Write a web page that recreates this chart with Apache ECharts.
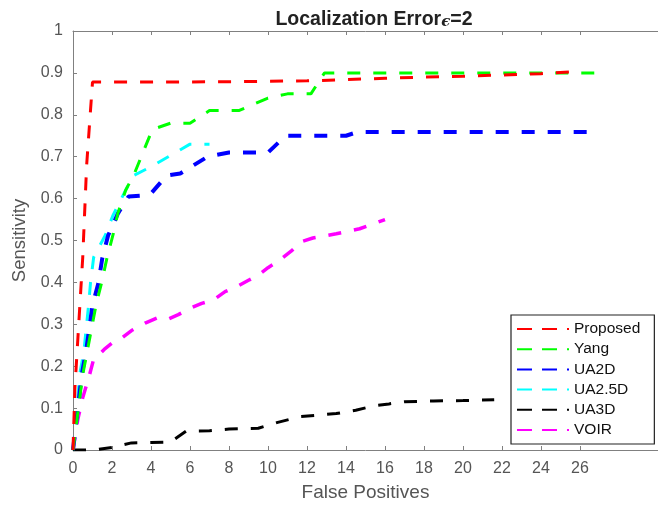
<!DOCTYPE html>
<html>
<head>
<meta charset="utf-8">
<script src="https://cdn.jsdelivr.net/npm/echarts@6/dist/echarts.min.js"></script>
<style>html,body{margin:0;padding:0;background:#fff;}#c{width:658px;height:507px;}</style>
</head>
<body>
<div id="c"></div>
<script>
// Data (x = false positives, y = sensitivity)
const proposed = [[0,0],[0.1,0.15],[0.5,0.46],[0.7,0.68],[1,0.878],[4,0.878],[8,0.879],[12,0.881],[14,0.884],[16,0.887],[18,0.89],[20,0.892],[22,0.895],[24,0.898],[25.7,0.903],[26,0.905]];
const yang = [[0,0],[0.5,0.18],[1.2,0.35],[1.47,0.4],[1.75,0.46],[2.06,0.515],[2.3,0.565],[2.7,0.62],[3.15,0.66],[4.07,0.765],[5,0.78],[6,0.78],[7,0.81],[8.5,0.81],[10,0.84],[11,0.85],[12.2,0.85],[12.9,0.9],[27,0.9]];
const ua2d = [[0,0],[0.45,0.18],[0.67,0.236],[0.85,0.295],[1.0,0.346],[1.3,0.398],[1.5,0.457],[1.8,0.512],[2.3,0.564],[2.85,0.605],[3.5,0.607],[4,0.612],[4.8,0.655],[5.5,0.66],[6.9,0.70],[8,0.71],[10,0.71],[10.9,0.75],[14,0.75],[14.6,0.759],[27,0.759]];
const ua25d = [[0,0],[0.25,0.125],[0.34,0.18],[0.56,0.236],[0.8,0.346],[0.9,0.4],[1.06,0.46],[1.65,0.512],[2.05,0.56],[2.7,0.62],[3.1,0.655],[4,0.676],[5,0.703],[6,0.73],[7,0.73]];
const ua3d = [[0,0],[1,0],[2,0.006],[3,0.017],[4,0.018],[5,0.019],[5.8,0.045],[7,0.046],[8,0.05],[9.5,0.052],[10.5,0.066],[11.7,0.08],[12.5,0.083],[13.5,0.087],[14.5,0.095],[15.5,0.106],[16.2,0.11],[17,0.115],[18.5,0.117],[20,0.118],[21.6,0.12]];
const voir = [[0,0],[0.25,0.074],[0.5,0.125],[0.85,0.18],[1.05,0.215],[1.6,0.24],[2,0.255],[2.5,0.267],[3,0.285],[3.7,0.303],[4.3,0.315],[4.8,0.311],[5.4,0.323],[6,0.338],[6.6,0.35],[7.2,0.358],[7.8,0.378],[8.4,0.39],[9,0.405],[9.5,0.417],[10,0.435],[10.6,0.453],[11.2,0.475],[11.7,0.497],[12.3,0.506],[12.8,0.51],[13.5,0.516],[14.1,0.522],[14.7,0.528],[15.3,0.538],[16,0.55]];

const seriesNames = ['Proposed','Yang','UA2D','UA2.5D','UA3D','VOIR'];
const seriesData = [proposed, yang, ua2d, ua25d, ua3d, voir];
const seriesColors = ['#ff0000','#00ff00','#0000ff','#00ffff','#000000','#ff00ff'];
const seriesWidths = [3,3,4,3,3,3.5];
const xTicks = [0,2,4,6,8,10,12,14,16,18,20,22,24,26];

const chart = echarts.init(document.getElementById('c'), null, {renderer:'canvas'});
const axisColor = '#808080';
const labelColor = '#555555';
const fontFam = 'Liberation Sans, Arial, sans-serif';

chart.setOption({
  animation: false,
  backgroundColor: '#ffffff',
  title: {
    text: '{a|Localization Error}{b|ϵ}{a|=2}',
    left: 369, top: 5, textAlign: 'center',
    textStyle: {
      rich: {
        a: {fontSize: 19.5, fontWeight: 'bold', color: '#222', fontFamily: fontFam},
        b: {fontSize: 15, fontStyle: 'italic', color: '#222', fontFamily: 'DejaVu Serif, serif', padding:[5,0,0,0]}
      }
    }
  },
  grid: {left: 73, right: -7, top: 31, bottom: 54, containLabel: false},
  legend: {
    orient: 'vertical', left: 511, top: 315,
    data: seriesNames,
    itemWidth: 52, itemHeight: 14, itemGap: 4.2,
    padding: [6, 14, 6, 5],
    backgroundColor: '#ffffff', borderColor: '#222', borderWidth: 1.2,
    itemStyle: {opacity: 0},
    lineStyle: {type: [15, 10]},
    textStyle: {fontSize: 15.5, color: '#111', fontFamily: fontFam}
  },
  xAxis: [{
    type: 'value', min: 0, max: 30, position: 'bottom',
    name: 'False Positives', nameLocation: 'middle', nameGap: 33,
    nameTextStyle: {fontSize: 19, color: labelColor, fontFamily: fontFam},
    axisLine: {show: true, lineStyle: {color: axisColor, width: 1}},
    axisTick: {show: true, inside: true, length: 4, customValues: xTicks, lineStyle: {color: axisColor}},
    axisLabel: {show: true, customValues: xTicks, margin: 11, fontSize: 16, color: labelColor, fontFamily: fontFam},
    splitLine: {show: false}
  },{
    type: 'value', min: 0, max: 30, position: 'top',
    axisLine: {show: true, lineStyle: {color: axisColor, width: 1}},
    axisTick: {show: true, inside: true, length: 4, customValues: xTicks, lineStyle: {color: axisColor}},
    axisLabel: {show: false},
    splitLine: {show: false}
  }],
  yAxis: {
    type: 'value', min: 0, max: 1, interval: 0.1,
    name: 'Sensitivity', nameLocation: 'middle', nameGap: 44,
    nameTextStyle: {fontSize: 18.5, color: labelColor, fontFamily: fontFam},
    axisLine: {show: true, lineStyle: {color: axisColor, width: 1}},
    axisTick: {show: true, inside: true, length: 4, lineStyle: {color: axisColor}},
    axisLabel: {show: true, margin: 10, fontSize: 16, color: labelColor, fontFamily: fontFam,
      formatter: v => String(Math.round(v*10)/10)},
    splitLine: {show: false}
  },
  series: seriesNames.map((n, i) => ({
    name: n, type: 'line', data: seriesData[i], xAxisIndex: 0,
    symbol: 'none', showSymbol: false,
    lineStyle: {color: seriesColors[i], width: seriesWidths[i], type: [13, 13], cap: 'butt'},
    itemStyle: {color: seriesColors[i]},
    z: 10 - i
  }))
});
</script>
</body>
</html>
